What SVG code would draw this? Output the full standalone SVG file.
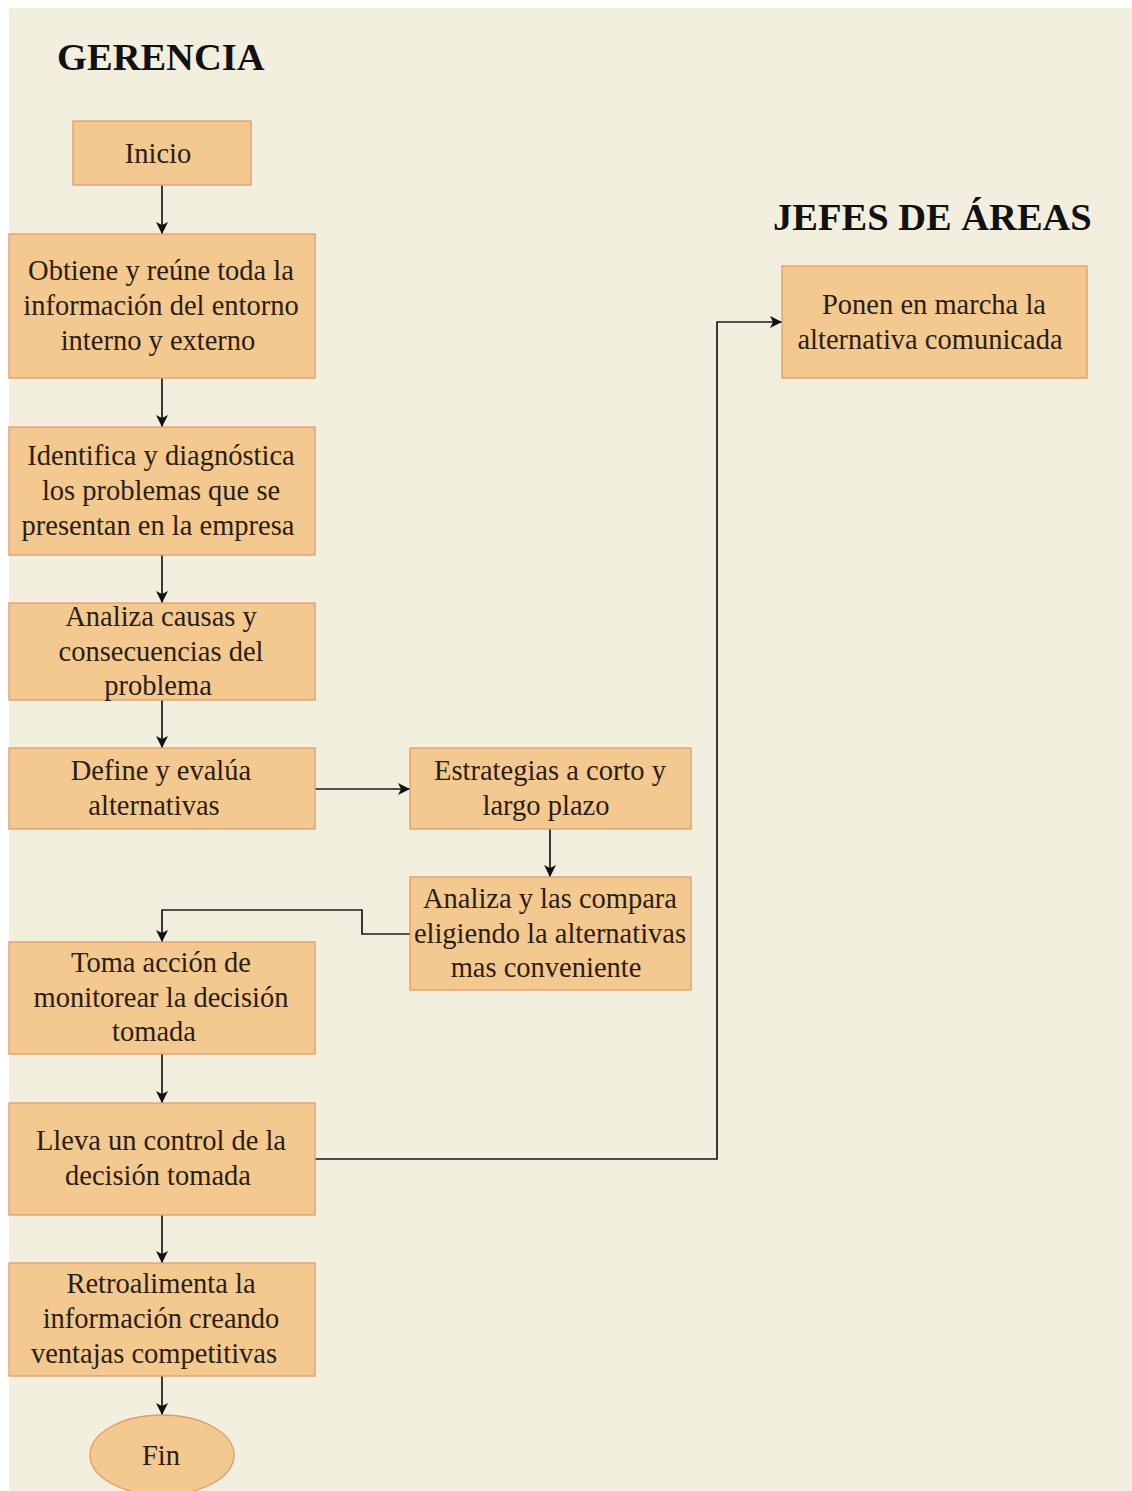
<svg xmlns="http://www.w3.org/2000/svg" width="1132" height="1491" viewBox="0 0 1132 1491">
  <defs>
    <marker id="arrow" viewBox="0 0 10 10" refX="10" refY="5" markerWidth="12" markerHeight="12" markerUnits="userSpaceOnUse" orient="auto">
      <path d="M0,0 L10,5 L0,10 L2.5,5 Z" fill="#111"/>
    </marker>
    <style>
      .box { fill: #f4c98f; stroke: #e29a6c; stroke-width: 1.3; }
      .lbl { font-family: "Liberation Serif", "Times New Roman", serif; font-size: 28.5px; fill: #2b1d12; text-anchor: middle; }
      .title { font-family: "Liberation Serif", "Times New Roman", serif; font-size: 38.5px; font-weight: bold; fill: #111; }
      .conn { fill: none; stroke: #1a1a1a; stroke-width: 1.7; marker-end: url(#arrow); }
    </style>
  </defs>

  <!-- page -->
  <rect x="0" y="0" width="1132" height="1491" fill="#ffffff"/>
  <rect x="9" y="8" width="1123" height="1483" fill="#f3efdf"/>

  <!-- lane headings -->
  <text class="title" x="57" y="70">GERENCIA</text>
  <text class="title" x="773" y="230">JEFES DE ÁREAS</text>

  <!-- connectors -->
  <g id="connectors">
    <path class="conn" d="M162,185 V234"/>
    <path class="conn" d="M162,378 V427"/>
    <path class="conn" d="M162,555 V603"/>
    <path class="conn" d="M162,700 V748"/>
    <path class="conn" d="M315,789 H410"/>
    <path class="conn" d="M550,829 V877"/>
    <path class="conn" d="M410,934 H362 V910 H162 V942"/>
    <path class="conn" d="M162,1054 V1103"/>
    <path class="conn" d="M315,1159 H717 V322 H782"/>
    <path class="conn" d="M162,1215 V1263"/>
    <path class="conn" d="M162,1376 V1415"/>
  </g>

  <g id="inicio">
    <rect class="box" x="73" y="121" width="178" height="64"/>
    <text class="lbl" x="158" y="163">Inicio</text>
  </g>

  <g id="obtiene">
    <rect class="box" x="9" y="234" width="306" height="144"/>
    <text class="lbl" x="161" y="280">Obtiene y reúne toda la</text>
    <text class="lbl" x="161" y="315">información del entorno</text>
    <text class="lbl" x="158" y="350">interno y externo</text>
  </g>

  <g id="identifica">
    <rect class="box" x="9" y="427" width="306" height="128"/>
    <text class="lbl" x="161" y="465">Identifica y diagnóstica</text>
    <text class="lbl" x="161" y="500">los problemas que se</text>
    <text class="lbl" x="158" y="535">presentan en la empresa</text>
  </g>

  <g id="analiza-causas">
    <rect class="box" x="9" y="603" width="306" height="97"/>
    <text class="lbl" x="161" y="626">Analiza causas y</text>
    <text class="lbl" x="161" y="661">consecuencias del</text>
    <text class="lbl" x="158" y="695">problema</text>
  </g>

  <g id="define">
    <rect class="box" x="9" y="748" width="306" height="81"/>
    <text class="lbl" x="161" y="780">Define y evalúa</text>
    <text class="lbl" x="154" y="815">alternativas</text>
  </g>

  <g id="estrategias">
    <rect class="box" x="410" y="748" width="281" height="81"/>
    <text class="lbl" x="550" y="780">Estrategias a corto y</text>
    <text class="lbl" x="546" y="815">largo plazo</text>
  </g>

  <g id="analiza-compara">
    <rect class="box" x="410" y="877" width="281" height="113"/>
    <text class="lbl" x="550" y="908">Analiza y las compara</text>
    <text class="lbl" x="550" y="943">eligiendo la alternativas</text>
    <text class="lbl" x="546" y="977">mas conveniente</text>
  </g>

  <g id="toma-accion">
    <rect class="box" x="9" y="942" width="306" height="112"/>
    <text class="lbl" x="161" y="972">Toma acción de</text>
    <text class="lbl" x="161" y="1007">monitorear la decisión</text>
    <text class="lbl" x="154" y="1041">tomada</text>
  </g>

  <g id="lleva-control">
    <rect class="box" x="9" y="1103" width="306" height="112"/>
    <text class="lbl" x="161" y="1150">Lleva un control de la</text>
    <text class="lbl" x="158" y="1185">decisión tomada</text>
  </g>

  <g id="retroalimenta">
    <rect class="box" x="9" y="1263" width="306" height="113"/>
    <text class="lbl" x="161" y="1293">Retroalimenta la</text>
    <text class="lbl" x="161" y="1328">información creando</text>
    <text class="lbl" x="154" y="1363">ventajas competitivas</text>
  </g>

  <g id="fin">
    <ellipse class="box" cx="162" cy="1455" rx="72" ry="40"/>
    <text class="lbl" x="161" y="1465">Fin</text>
  </g>

  <g id="ponen-marcha">
    <rect class="box" x="782" y="266" width="305" height="112"/>
    <text class="lbl" x="934" y="314">Ponen en marcha la</text>
    <text class="lbl" x="930" y="349">alternativa comunicada</text>
  </g>
</svg>
